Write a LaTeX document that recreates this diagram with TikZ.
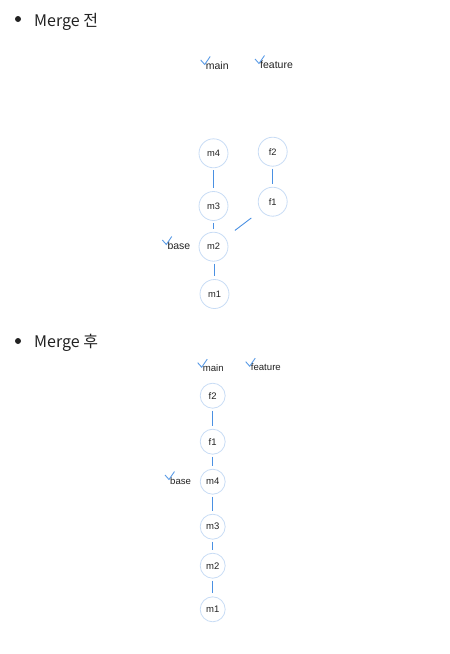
\documentclass[tikz,border=0pt]{standalone}
\usepackage{fontspec}
\setmainfont{Liberation Sans}
\newfontfamily\krfont{Noto Sans CJK KR}
\usetikzlibrary{positioning}
\definecolor{ringC}{RGB}{200, 220, 245}
\definecolor{linkC}{RGB}{74, 144, 226}
\definecolor{tickC}{RGB}{90, 155, 230}
\definecolor{textC}{RGB}{34, 34, 34}

\begin{document}
\begin{tikzpicture}[
    x=1pt, y=-1pt,
    commit/.style={circle, draw=ringC, line width=0.8pt, fill=white, minimum size=29pt,
                   inner sep=0pt, text=textC, font=\fontsize{9.3}{11}\selectfont},
    small/.style={commit, minimum size=25pt, font=\fontsize{9.5}{11}\selectfont},
    link/.style={draw=linkC, line width=0.9pt, shorten <=2pt, shorten >=3pt},
    branch/.style={anchor=base west, inner sep=0pt, text=textC, font=\fontsize{10.5}{12}\selectfont},
    smallbranch/.style={branch, font=\fontsize{9.6}{11}\selectfont},
    tick/.style={draw=tickC, line width=0.9pt},
    bullet/.style={circle, fill=textC, inner sep=0pt, minimum size=6pt},
    heading/.style={anchor=base west, inner sep=0pt, text=textC, font=\krfont\fontsize{16}{19}\selectfont}
  ]
    \useasboundingbox (0,0) rectangle (450,654);

    % Before merge
    \node[bullet] (dot1) at (18,19) {};
    \node[heading] (title1) at (34,26) {Merge 전};

    \node[branch] (main1) at (205.7,69) {main};
    \node[branch] (feat1) at (260,68) {feature};
    \node[branch] (base1) at (167.3,249) {base};

    \node[commit] (m4) at (213.5,153.3) {m4};
    \node[commit] (m3) at (213.5,206) {m3};
    \node[commit] (m2) at (213.5,246.7) {m2};
    \node[commit] (m1) at (214.5,294) {m1};
    \node[commit] (f2) at (272.7,151.7) {f2};
    \node[commit] (f1) at (272.7,201.7) {f1};

    \draw[link] (m4) -- (m3);
    \draw[link] (m3) -- (m2);
    \draw[link] (m2.south -| m1) -- (m1);
    \draw[link] (f2) -- (f1);
    \draw[link, shorten <=12pt, shorten >=12pt] (f1) -- (m2);

    % After merge
    \node[bullet] (dot2) at (18,341) {};
    \node[heading] (title2) at (34,347) {Merge 후};

    \node[smallbranch] (main2) at (202.7,371.7) {main};
    \node[smallbranch] (feat2) at (250.7,370.7) {feature};
    \node[smallbranch] (base2) at (170,484) {base};

    \node[small] (g2) at (212.7,395.7) {f2};
    \node[small] (g1) at (212.7,441.7) {f1};
    \node[small] (n4) at (212.7,481.7) {m4};
    \node[small] (n3) at (212.7,526.7) {m3};
    \node[small] (n2) at (212.7,565.7) {m2};
    \node[small] (n1) at (212.7,609.3) {m1};

    \draw[link] (g2) -- (g1);
    \draw[link] (g1) -- (n4);
    \draw[link] (n4) -- (n3);
    \draw[link] (n3) -- (n2);
    \draw[link] (n2) -- (n1);

    % Branch ticks
    \foreach \b in {main1, feat1, base1, main2, feat2, base2}
      \draw[tick] ([shift={(-5,-9)}]\b.base west) -- ++(4,4.5) -- ++(5.5,-8);
  \end{tikzpicture}
\end{document}
